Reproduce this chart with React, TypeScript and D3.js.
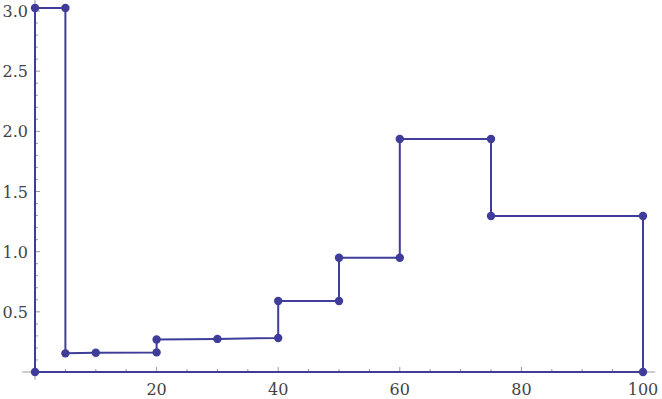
import React from "react";
import * as d3 from "d3";

const xs = [0, 0, 5, 5, 10, 20, 20, 30, 40, 40, 50, 50, 60, 60, 75, 75, 100, 100];
const ys = [0, 3.025, 3.025, 0.155, 0.16, 0.163, 0.27, 0.275, 0.283, 0.59, 0.59, 0.95, 0.95, 1.937, 1.937, 1.297, 1.297, 0];
const xMajor = [20, 40, 60, 80, 100];
const yMajor = [0.5, 1.0, 1.5, 2.0, 2.5, 3.0];

const W = 662, H = 399;
const color = "#3f3d99";

export default function App() {
  const x = d3.scaleLinear().domain([0, 100]).range([35, 643]);
  const y = d3.scaleLinear().domain([0, 3]).range([372, 11]);
  const pts: [number, number][] = xs.map((v, i) => [v, ys[i]]);
  const line = d3.line<[number, number]>().x(d => x(d[0])).y(d => y(d[1]));
  const xMinor = d3.range(5, 101, 5).filter(v => v % 20 !== 0);
  const yMinor = d3.range(1, 31).map(v => v / 10).filter(v => Math.round(v * 10) % 5 !== 0);
  const tickColor = "#9a9a9a";
  const font = "'DejaVu Serif', serif";
  return (
    <svg width={W} height={H} style={{ position: "absolute", left: 0, top: 0 }}>
      <rect width={W} height={H} fill="white" />
      {/* axes */}
      <line x1={x(-2.1)} x2={x(102)} y1={y(0)} y2={y(0)} stroke={tickColor} strokeWidth={1} />
      <line x1={x(0)} x2={x(0)} y1={y(-0.065)} y2={0} stroke={tickColor} strokeWidth={1} />
      {xMinor.map(v => (
        <line key={"xm" + v} x1={x(v)} x2={x(v)} y1={y(0)} y2={y(0) - 3} stroke={tickColor} />
      ))}
      {xMajor.map(v => (
        <g key={"xM" + v}>
          <line x1={x(v)} x2={x(v)} y1={y(0)} y2={y(0) - 5} stroke={tickColor} />
          <text x={x(v)} y={395} textAnchor="middle" fontFamily={font} fontSize={16} fill="#444">{v}</text>
        </g>
      ))}
      {yMinor.map(v => (
        <line key={"ym" + v} x1={x(0)} x2={x(0) + 3} y1={y(v)} y2={y(v)} stroke={tickColor} />
      ))}
      {yMajor.map(v => (
        <g key={"yM" + v}>
          <line x1={x(0)} x2={x(0) + 5} y1={y(v)} y2={y(v)} stroke={tickColor} />
          <text x={28} y={y(v) + 6} textAnchor="end" fontFamily={font} fontSize={16} fill="#444">{v.toFixed(1)}</text>
        </g>
      ))}
      <path d={line([...pts, pts[0]]) || ""} fill="none" stroke={color} strokeWidth={2} strokeLinejoin="round" />
      {pts.map((p, i) => (
        <circle key={i} cx={x(p[0])} cy={y(p[1])} r={4.2} fill={color} />
      ))}
    </svg>
  );
}
